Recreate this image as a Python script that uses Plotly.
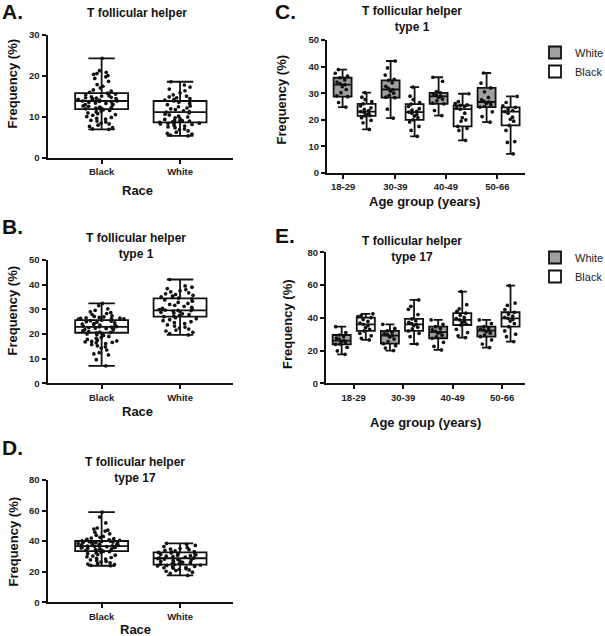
import plotly.graph_objects as go

W, H = 605, 636
FONT = "Arial, 'Liberation Sans', sans-serif"
INK = "#111111"
GRAY = "#a0a0a0"

race = ["Black", "White"]
age_groups = ["18-29", "30-39", "40-49", "50-66"]

# ---- A: T follicular helper, by race (low, q1, median, q3, high) ----
a_black = [24.3, 21.3, 20.9, 20.6, 20.4, 20.1, 19.8, 19.4, 18.7, 17.9,
           17.5, 17.1, 16.6, 16.3, 16.0, 15.8, 15.6, 15.4, 15.2, 15.1,
           14.9, 14.8, 14.7, 14.6, 14.5, 14.4, 14.3, 14.2, 14.1, 14.0,
           13.9, 13.9, 13.8, 13.7, 13.6, 13.4, 13.3, 13.1, 13.0, 12.9,
           12.7, 12.6, 12.4, 12.3, 12.2, 12.1, 12.0, 11.9, 11.8, 11.6,
           11.4, 11.2, 11.0, 10.8, 10.6, 10.4, 10.1, 9.9, 9.7, 9.5,
           9.2, 9.0, 8.8, 8.5, 8.3, 8.0, 7.7, 7.4, 7.1, 7.0]
a_white = [18.6, 17.8, 17.3, 16.8, 16.4, 15.9, 15.4, 15.1, 14.9, 14.7,
           14.5, 14.3, 14.1, 13.9, 13.6, 13.3, 13.0, 12.7, 12.5, 12.2,
           12.0, 11.8, 11.5, 11.3, 11.2, 11.0, 10.7, 10.5, 10.2, 10.0,
           9.8, 9.6, 9.4, 9.2, 9.1, 9.0, 8.9, 8.8, 8.7, 8.6,
           8.5, 8.4, 8.3, 8.2, 8.0, 7.8, 7.6, 7.4, 7.1, 6.9,
           6.6, 6.3, 6.0, 5.8, 5.6, 5.4]
a_low, a_q1, a_med, a_q3, a_high = [7.0, 5.4], [11.9, 8.7], [13.9, 11.2], [15.8, 13.9], [24.3, 18.6]

# ---- B: Tfh1, by race ----
b_black = [32.4, 31.5, 30.2, 29.6, 29.0, 28.7, 28.3, 27.9, 27.4, 27.1,
           26.9, 26.7, 26.5, 26.4, 26.3, 26.2, 26.1, 26.0, 25.8, 25.6,
           25.4, 25.2, 25.0, 24.8, 24.5, 24.2, 24.0, 23.8, 23.6, 23.4,
           23.2, 23.0, 22.9, 22.8, 22.6, 22.4, 22.2, 22.0, 21.8, 21.6,
           21.3, 21.0, 20.8, 20.6, 20.5, 20.3, 20.0, 19.7, 19.4, 19.0,
           18.6, 18.2, 17.8, 17.5, 17.2, 17.0, 16.8, 16.6, 16.4, 16.1,
           15.7, 15.2, 14.8, 14.3, 13.5, 12.4, 11.9, 11.5, 9.6, 7.1]
b_white = [42.1, 39.5, 39.0, 38.4, 38.0, 37.5, 37.1, 36.7, 36.3, 36.0,
           35.7, 35.4, 35.1, 34.8, 34.5, 34.2, 33.8, 33.3, 32.8, 32.4,
           32.0, 31.6, 31.2, 30.8, 30.4, 30.1, 29.9, 29.7, 29.6, 29.5,
           29.3, 29.1, 28.8, 28.5, 28.2, 27.9, 27.6, 27.3, 27.0, 26.6,
           26.2, 25.8, 25.4, 25.0, 24.6, 24.2, 23.7, 23.2, 22.8, 22.4,
           22.0, 21.6, 21.2, 20.7, 20.2, 19.6]
b_low, b_q1, b_med, b_q3, b_high = [7.1, 19.6], [20.5, 27.0], [22.9, 29.6], [25.6, 34.4], [32.4, 42.1]

# ---- D: Tfh17, by race ----
d_black = [59.0, 55.8, 51.9, 48.6, 47.9, 47.2, 46.6, 45.9, 44.8, 43.9,
           43.1, 42.5, 42.0, 41.6, 41.2, 40.8, 40.5, 40.2, 40.0, 39.8,
           39.6, 39.4, 39.2, 39.0, 38.8, 38.6, 38.4, 38.2, 38.0, 37.8,
           37.6, 37.4, 37.2, 37.0, 36.8, 36.6, 36.4, 36.2, 36.0, 35.8,
           35.6, 35.4, 35.1, 34.8, 34.5, 34.2, 33.9, 33.6, 33.4, 33.1,
           32.7, 32.3, 31.8, 31.3, 30.8, 30.3, 29.8, 29.3, 28.8, 28.3,
           27.8, 27.3, 26.8, 26.3, 25.8, 25.4, 25.0, 24.6, 24.2, 23.9]
d_white = [38.6, 37.9, 37.2, 36.5, 35.8, 35.2, 34.8, 34.4, 34.0, 33.6,
           33.2, 32.9, 32.6, 32.3, 32.0, 31.7, 31.4, 31.1, 30.8, 30.5,
           30.2, 29.9, 29.6, 29.3, 29.0, 28.8, 28.6, 28.3, 28.0, 27.7,
           27.4, 27.1, 26.8, 26.5, 26.2, 25.9, 25.6, 25.3, 25.0, 24.7,
           24.4, 24.1, 23.8, 23.5, 23.2, 22.9, 22.6, 22.3, 22.0, 21.6,
           21.2, 20.8, 20.3, 19.7, 18.9, 17.6]
d_low, d_q1, d_med, d_q3, d_high = [23.9, 17.6], [33.5, 24.6], [36.8, 28.8], [40.1, 32.7], [59.0, 38.6]

# ---- C: Tfh1 by age group, White (grey) and Black (open) ----
c_white = [[38.9, 37.5, 36.4, 35.8, 35.0, 34.2, 33.6, 33.2, 32.5, 31.4, 30.2, 29.0, 28.7, 26.5, 24.8],
           [42.1, 39.5, 36.8, 35.2, 34.8, 33.9, 32.6, 31.8, 31.4, 30.8, 30.0, 29.2, 28.5, 28.3, 24.0, 20.6],
           [36.0, 34.5, 30.6, 30.1, 29.6, 29.2, 28.8, 28.4, 27.8, 27.1, 26.3, 26.0, 23.5, 21.6],
           [37.6, 33.8, 32.0, 30.5, 28.4, 27.5, 26.9, 26.7, 26.2, 25.7, 25.0, 24.8, 23.0, 21.2, 19.1]]
c_black = [[30.2, 28.5, 27.6, 26.8, 26.0, 25.2, 24.5, 23.9, 23.5, 23.1, 22.8, 22.4, 22.0, 21.6, 21.5, 20.8, 19.8, 18.9, 16.4],
           [32.3, 28.9, 27.6, 26.5, 25.9, 25.0, 24.2, 23.6, 23.2, 22.9, 22.5, 22.0, 21.4, 20.8, 20.0, 19.2, 17.5, 16.0, 13.8],
           [29.8, 26.8, 26.1, 25.6, 25.4, 25.0, 24.6, 24.0, 22.5, 20.8, 20.0, 19.5, 17.5, 16.8, 16.0, 12.3],
           [28.8, 26.5, 25.2, 24.7, 24.0, 23.5, 23.1, 22.5, 21.0, 20.2, 19.5, 17.9, 16.0, 11.8, 11.5, 7.2]]
c_white_stats = dict(low=[24.8, 20.6, 21.6, 19.1], q1=[28.7, 28.3, 26.0, 24.8], med=[33.2, 31.4, 28.8, 26.7],
                     q3=[35.8, 34.8, 30.1, 32.0], high=[38.9, 42.1, 36.0, 37.6])
c_black_stats = dict(low=[16.4, 13.8, 12.3, 7.2], q1=[21.5, 20.0, 17.5, 17.9], med=[23.1, 22.9, 24.0, 23.1],
                     q3=[26.0, 25.9, 25.4, 24.7], high=[30.2, 32.3, 29.8, 28.8])

# ---- E: Tfh17 by age group ----
e_white = [[34.6, 31.0, 29.5, 28.5, 27.6, 26.8, 26.1, 25.5, 24.8, 24.0, 23.8, 22.0, 19.8, 17.7],
           [36.0, 33.5, 32.0, 31.2, 30.4, 29.6, 29.1, 28.3, 27.0, 25.5, 24.2, 23.0, 21.5, 20.0],
           [38.7, 36.0, 34.6, 33.5, 32.6, 31.8, 31.2, 30.5, 29.4, 28.4, 27.5, 25.0, 22.5, 20.4],
           [38.7, 36.5, 34.6, 33.8, 33.0, 32.5, 32.2, 31.5, 30.6, 29.5, 28.5, 26.5, 24.0, 21.8]]
e_black = [[42.4, 41.5, 40.8, 40.1, 39.0, 37.8, 36.8, 36.0, 35.2, 34.0, 33.0, 32.0, 30.5, 29.0, 27.5, 26.5],
           [50.9, 47.0, 45.2, 42.0, 39.3, 38.2, 37.2, 36.5, 36.0, 35.2, 34.3, 33.2, 32.0, 30.5, 28.5, 24.0],
           [56.0, 48.0, 45.5, 44.0, 42.8, 41.5, 40.2, 39.5, 38.7, 37.8, 37.0, 36.2, 35.6, 33.0, 31.0, 29.0, 27.9],
           [59.7, 49.0, 47.6, 45.0, 43.4, 42.2, 41.0, 40.2, 39.7, 38.9, 38.0, 36.5, 34.6, 32.0, 30.0, 28.5, 25.5]]
e_white_stats = dict(low=[17.7, 20.0, 20.4, 21.8], q1=[23.8, 24.2, 27.5, 28.5], med=[26.1, 29.1, 31.2, 32.2],
                     q3=[29.5, 32.0, 34.6, 34.6], high=[34.6, 36.0, 38.7, 38.7])
e_black_stats = dict(low=[26.5, 24.0, 27.9, 25.5], q1=[32.0, 32.0, 35.6, 34.6], med=[36.0, 36.0, 38.7, 39.7],
                     q3=[40.1, 39.3, 42.8, 43.4], high=[42.4, 50.9, 56.0, 59.7])


def px(x):
    return x / W


def py(y):
    return 1 - y / H


fig = go.Figure()


def stat_box(n, pos, low, q1, med, q3, high, width, fill, name=None, legend=None):
    fig.add_trace(go.Box(
        x=pos, q1=q1, median=med, q3=q3, lowerfence=low, upperfence=high,
        boxpoints=False, width=width, whiskerwidth=0.5, fillcolor=fill,
        line=dict(color=INK, width=1.8), name=name or "", hoverinfo="skip",
        showlegend=legend is not None, legend=legend or "legend",
        xaxis="x" if n == 1 else f"x{n}", yaxis="y" if n == 1 else f"y{n}",
    ))


def dots(n, pos, vals, width):
    fig.add_trace(go.Box(
        y=vals, x0=pos, boxpoints="all", jitter=0.9, pointpos=0, width=width,
        fillcolor="rgba(0,0,0,0)", line=dict(color="rgba(0,0,0,0)", width=0),
        marker=dict(color=INK, size=3.7), showlegend=False, hoverinfo="skip",
        xaxis="x" if n == 1 else f"x{n}", yaxis="y" if n == 1 else f"y{n}",
    ))


# race panels A (1), B (2), D (4)
race_pos = list(range(len(race)))
for n, groups, low, q1, med, q3, high in [
    (1, [a_black, a_white], a_low, a_q1, a_med, a_q3, a_high),
    (2, [b_black, b_white], b_low, b_q1, b_med, b_q3, b_high),
    (4, [d_black, d_white], d_low, d_q1, d_med, d_q3, d_high),
]:
    stat_box(n, race_pos, low, q1, med, q3, high, 0.675, "white")
    for p, vals in zip(race_pos, groups):
        dots(n, p, vals, 0.675)

# age panels C (3), E (5): White boxes grey, Black boxes open
white_pos = [2 * i for i in range(len(age_groups))]
black_pos = [2 * i + 1 for i in range(len(age_groups))]
for n, wv, bv, ws, bs, leg in [
    (3, c_white, c_black, c_white_stats, c_black_stats, "legend"),
    (5, e_white, e_black, e_white_stats, e_black_stats, "legend2"),
]:
    stat_box(n, white_pos, ws["low"], ws["q1"], ws["med"], ws["q3"], ws["high"], 0.75, GRAY, "White", leg)
    stat_box(n, black_pos, bs["low"], bs["q1"], bs["med"], bs["q3"], bs["high"], 0.75, "white", "Black", leg)
    for p, vals in zip(white_pos, wv):
        dots(n, p, vals, 0.75)
    for p, vals in zip(black_pos, bv):
        dots(n, p, vals, 0.75)

tickfont = dict(family=FONT, size=9.5, color="#222", weight="bold")
axis_common = dict(showline=True, linecolor=INK, linewidth=2, ticks="outside", ticklen=4,
                   tickwidth=2, tickcolor=INK, showgrid=False, zeroline=False, tickfont=tickfont,
                   fixedrange=True)

# (n, x-left px, x-right px, y-zero px, y-top px, x range, y max, y step, tickvals, ticktext)
axes = [
    (1, 47.5, 233, 158, 35, [-0.69, 1.675], 30, 10, race_pos, race),
    (2, 47.5, 233, 383.3, 260, [-0.69, 1.675], 50, 10, race_pos, race),
    (4, 47.5, 233, 602.3, 480, [-0.69, 1.675], 80, 20, race_pos, race),
    (3, 327, 525, 173, 40, [-0.65, 7.6], 50, 10, [0.02, 2.2, 4.3, 6.45], age_groups),
    (5, 326, 525, 383.3, 252.3, [-0.65, 7.6], 80, 20, [0.5, 2.55, 4.6, 6.65], age_groups),
]
layout_axes = {}
for n, xl, xr, y0, yt, xr_, ymax, step, tv, tt in axes:
    xn = "xaxis" if n == 1 else f"xaxis{n}"
    yn = "yaxis" if n == 1 else f"yaxis{n}"
    layout_axes[xn] = dict(axis_common, domain=[px(xl), px(xr)], range=xr_, type="linear",
                           tickvals=tv, ticktext=tt, anchor="y" if n == 1 else f"y{n}")
    layout_axes[yn] = dict(axis_common, domain=[py(y0), py(yt)], range=[0, ymax], dtick=step,
                           anchor="x" if n == 1 else f"x{n}")

annotations = []


def text(s, x, y, size, bold=True, angle=0, anchor="center"):
    annotations.append(dict(
        text=s, x=px(x), y=py(y), xref="paper", yref="paper", showarrow=False,
        xanchor=anchor, yanchor="middle", textangle=angle,
        font=dict(family=FONT, size=size, color=INK, weight="bold" if bold else "normal"),
    ))


# panel letters
for letter, x, y in [("A.", 0, 12), ("B.", 0, 226), ("C.", 273, 12), ("D.", 0, 447), ("E.", 273, 236)]:
    text(letter, x, y, 21, anchor="left")

# panel titles
text("T follicular helper", 137, 12.7, 12)
text("T follicular helper<br>type 1", 136, 245.5, 12)
text("T follicular helper<br>type 1", 412, 19.3, 12)
text("T follicular helper<br>type 17", 135, 469.5, 12)
text("T follicular helper<br>type 17", 412, 249.2, 12)

# axis titles
for x, y in [(12.5, 84), (12.5, 311), (12.5, 542), (281.5, 100), (287, 324)]:
    text("Frequency (%)", x, y, 13, angle=-90)
for x, y in [(137, 190), (137, 411.7), (135, 629)]:
    text("Race", x, y, 13)
for x, y in [(424.5, 201.7), (425, 422)]:
    text("Age group (years)", x, y, 13)

legend_style = dict(xanchor="left", yanchor="top", bgcolor="rgba(0,0,0,0)", tracegroupgap=0,
                    itemwidth=30, font=dict(family=FONT, size=11, color="#222"))

fig.update_layout(
    width=W, height=H, autosize=False,
    margin=dict(l=0, r=0, t=0, b=0, autoexpand=False),
    paper_bgcolor="white", plot_bgcolor="white",
    boxmode="overlay",
    annotations=annotations,
    legend=dict(legend_style, x=px(535), y=py(38)),
    legend2=dict(legend_style, x=px(535), y=py(243)),
    **layout_axes,
)

# the page's default body margin would offset the figure by 8px
fig.write_html("out.html", config={"displayModeBar": False},
               post_script="document.body.style.margin = '0px';")
